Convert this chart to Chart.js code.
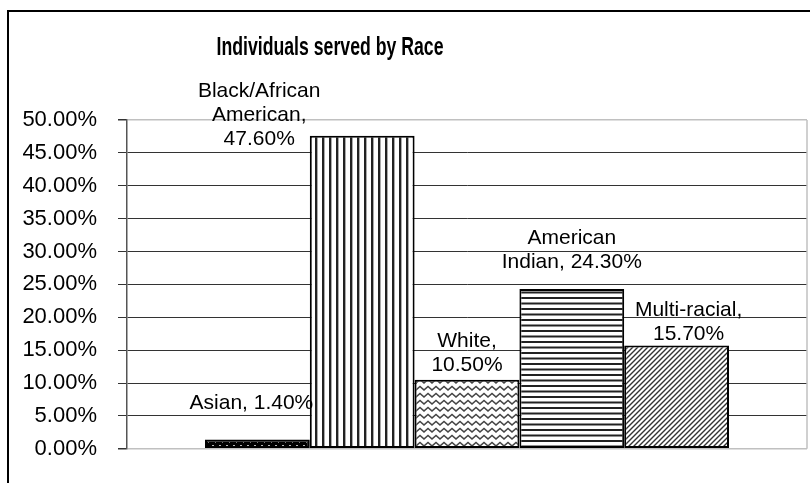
<!DOCTYPE html>
<html>
<head>
<meta charset="utf-8">
<script src="https://cdn.jsdelivr.net/npm/chart.js@4"></script>
<style>
  html, body { margin: 0; padding: 0; background: #fff; }
  #wrap { width: 810px; height: 483px; position: relative; }
</style>
</head>
<body>
<div id="wrap"><canvas id="raceChart" width="810" height="483"></canvas></div>
<script>
// data
const races = ['Asian', 'Black/African American', 'White', 'American Indian', 'Multi-racial'];
const shares = [1.4, 47.6, 10.5, 24.3, 15.7];
const yMin = 0, yMax = 50, yStep = 5;

// label layout (wrap width, x shift, baseline gap above bar)
const labelWrap = [150, 135, 75, 150, 135];
const labelDx = [-6, -103, 0, 0, 12];
const labelGap = [31, -9, 9, 21, 6];

const FONT = "'Liberation Sans', Arial, sans-serif";

function makePattern(w, h, draw) {
    const c = document.createElement('canvas');
    c.width = w; c.height = h;
    const g = c.getContext('2d');
    draw(g, w, h);
    return document.getElementById('raceChart').getContext('2d').createPattern(c, 'repeat');
}

const patterns = [
    // dots on black
    makePattern(7, 6, (g, w, h) => {
        g.fillStyle = '#000'; g.fillRect(0, 0, w, h);
        g.fillStyle = '#bbb'; g.fillRect(2, 1, 2, 2);
        g.fillStyle = '#777'; g.fillRect(5, 4, 1, 1);
    }),
    // vertical stripes
    makePattern(7, 4, (g, w, h) => {
        g.fillStyle = '#fff'; g.fillRect(0, 0, w, h);
        g.fillStyle = '#222'; g.fillRect(0, 0, 2, h);
        g.fillStyle = '#aaa'; g.fillRect(2, 0, 1, h);
    }),
    // waves
    makePattern(8, 7, (g, w, h) => {
        g.fillStyle = '#fff'; g.fillRect(0, 0, w, h);
        g.strokeStyle = '#444'; g.lineWidth = 1.5;
        g.beginPath();
        g.moveTo(-2, 2); g.lineTo(0, 5); g.lineTo(4, 1.5); g.lineTo(8, 5); g.lineTo(10, 2);
        g.stroke();
    }),
    // horizontal lines
    makePattern(4, 11, (g, w, h) => {
        g.fillStyle = '#fff'; g.fillRect(0, 0, w, h);
        g.fillStyle = '#222';
        g.fillRect(0, 0, w, 2);
        g.fillRect(0, 5.5, w, 2);
    }),
    // diagonal ///
    makePattern(5, 5, (g, w, h) => {
        g.fillStyle = '#fff'; g.fillRect(0, 0, w, h);
        g.strokeStyle = '#333'; g.lineWidth = 1.4;
        g.beginPath();
        g.moveTo(-1, 1); g.lineTo(1, -1);
        g.moveTo(0, 5); g.lineTo(5, 0);
        g.moveTo(4, 6); g.lineTo(6, 4);
        g.stroke();
    })
];

function wrapText(ctx, text, maxW) {
    const words = text.split(' ');
    const lines = [];
    let cur = '';
    words.forEach(wd => {
        const test = cur ? cur + ' ' + wd : wd;
        if (cur && ctx.measureText(test).width > maxW) {
            lines.push(cur);
            cur = wd;
        } else {
            cur = test;
        }
    });
    if (cur) lines.push(cur);
    return lines;
}

const framePlugin = {
    id: 'frame',
    beforeDraw(chart) {
        const ctx = chart.ctx;
        ctx.save();
        ctx.fillStyle = '#fff';
        ctx.fillRect(0, 0, chart.width, chart.height);
        ctx.strokeStyle = '#000';
        ctx.lineWidth = 2;
        ctx.beginPath();
        ctx.moveTo(8, 483);
        ctx.lineTo(8, 11);
        ctx.lineTo(810, 11);
        ctx.stroke();
        // title, condensed bold
        ctx.fillStyle = '#000';
        ctx.font = 'bold 26px ' + FONT;
        ctx.textAlign = 'center';
        ctx.textBaseline = 'middle';
        ctx.translate(330, 48);
        ctx.scale(0.68, 1);
        ctx.fillText('Individuals served by Race', 0, 0);
        ctx.restore();
    },
    beforeDatasetsDraw(chart) {
        const a = chart.chartArea, ctx = chart.ctx;
        ctx.save();
        ctx.strokeStyle = '#c0c0c0';
        ctx.lineWidth = 1.5;
        ctx.beginPath();
        ctx.moveTo(a.right, a.top);
        ctx.lineTo(a.right, a.bottom);
        ctx.stroke();
        ctx.restore();
    },
    afterDatasetsDraw(chart) {
        const ctx = chart.ctx;
        ctx.save();
        ctx.font = '21px ' + FONT;
        ctx.fillStyle = '#000';
        ctx.textAlign = 'center';
        ctx.textBaseline = 'alphabetic';
        chart.data.datasets.forEach((ds, i) => {
            const bar = chart.getDatasetMeta(i).data[0];
            const text = races[i] + ', ' + shares[i].toFixed(2) + '%';
            const lines = wrapText(ctx, text, labelWrap[i]);
            const lh = 24;
            lines.forEach((ln, j) => {
                const y = bar.y - labelGap[i] - (lines.length - 1 - j) * lh;
                ctx.fillText(ln, bar.x + labelDx[i], y);
            });
        });
        ctx.restore();
    }
};

new Chart(document.getElementById('raceChart'), {
    type: 'bar',
    data: {
        labels: [''],
        datasets: races.map((r, i) => ({
            label: r,
            data: [shares[i]],
            backgroundColor: patterns[i],
            borderColor: '#000',
            borderWidth: 2,
            borderSkipped: false
        }))
    },
    options: {
        responsive: false,
        animation: false,
        devicePixelRatio: 1,
        layout: { padding: { left: 8, top: 120, right: 3, bottom: 34 } },
        datasets: { bar: { categoryPercentage: 0.7706, barPercentage: 1.0 } },
        plugins: { legend: { display: false }, title: { display: false }, tooltip: { enabled: false } },
        scales: {
            x: { display: false },
            y: {
                min: yMin, max: yMax,
                afterFit: (s) => { s.width = 119; },
                border: { display: true, color: '#555', width: 1.5 },
                grid: {
                    color: (c) => (c.tick && (c.tick.value === yMin || c.tick.value === yMax)) ? '#c0c0c0' : '#333',
                    lineWidth: (c) => (c.tick && (c.tick.value === yMin || c.tick.value === yMax)) ? 1.5 : 1,
                    tickColor: '#333',
                    tickLength: 9
                },
                ticks: {
                    stepSize: yStep,
                    padding: 21,
                    color: '#000',
                    font: { family: FONT, size: 22 },
                    callback: (v) => v.toFixed(2) + '%'
                }
            }
        }
    },
    plugins: [framePlugin]
});
</script>
</body>
</html>
